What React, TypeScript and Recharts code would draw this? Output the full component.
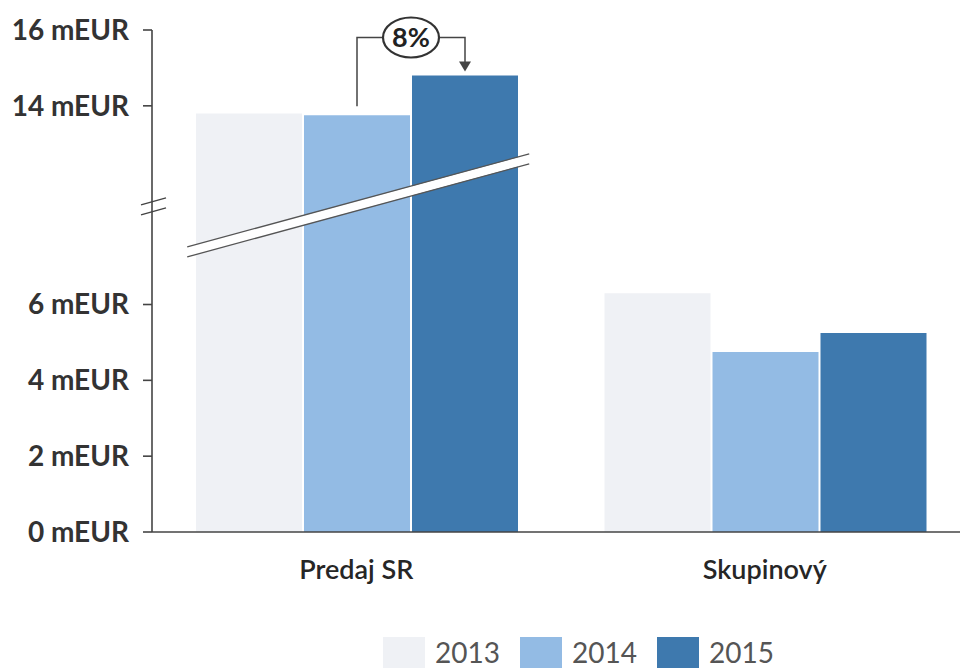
import React from "react";
import {
  BarChart,
  Bar,
  XAxis,
  YAxis,
  Legend,
  LabelList,
  ReferenceLine,
  ReferenceDot,
} from "recharts";

// Categories and yearly revenue (mEUR)
const categories = ["Predaj SR", "Skupinový"];
const years = ["2013", "2014", "2015"];
const series2013 = [13.8, 6.3];
const series2014 = [13.75, 4.75];
const series2015 = [14.8, 5.25];
const seriesColors = ["#eff1f5", "#93bbe4", "#3e79ae"];

// Value axis ticks and labels
const tickValues = [0, 2, 4, 6, 14, 16];
const tickLabels = ["0 mEUR", "2 mEUR", "4 mEUR", "6 mEUR", "14 mEUR", "16 mEUR"];

// The value axis is broken: the span between these two values is cut out
const BREAK_LOW = 8.6;
const BREAK_HIGH = 11.36;
const compress = (v: number) =>
  v <= BREAK_LOW ? v : v >= BREAK_HIGH ? v - (BREAK_HIGH - BREAK_LOW) : BREAK_LOW;

const BAR_GAP = 2;
const AXIS_COLOR = "#444";
const FONT = "Lato, 'Open Sans', sans-serif";

const data = categories.map((name, i) => ({
  name,
  y2013: compress(series2013[i]),
  y2014: compress(series2014[i]),
  y2015: compress(series2015[i]),
}));

const seriesKeys = ["y2013", "y2014", "y2015"];

// Slanted double line cutting across the first group of bars
const BarBreak = (props: any) => {
  const { cx, cy } = props;
  if (cx == null || cy == null) return null;
  const slope = -0.272;
  const xa = cx - 169;
  const xb = cx + 173;
  const ya = cy + (xa - cx) * slope;
  const yb = cy + (xb - cx) * slope;
  return (
    <g>
      <line x1={xa} y1={ya} x2={xb} y2={yb} stroke="#ffffff" strokeWidth={9} />
      <line x1={xa} y1={ya - 5} x2={xb} y2={yb - 5} stroke="#555" strokeWidth={1.3} />
      <line x1={xa} y1={ya + 5} x2={xb} y2={yb + 5} stroke="#555" strokeWidth={1.3} />
    </g>
  );
};

// "//" break marks on the value axis
const AxisBreak = (props: any) => {
  const { x1, y1 } = props;
  if (x1 == null || y1 == null) return null;
  const x = x1;
  const y = y1;
  return (
    <g>
      <rect x={x - 3} y={y - 3} width={6} height={7} fill="#ffffff" />
      <line x1={x - 11} y1={y - 1} x2={x + 14} y2={y - 8} stroke={AXIS_COLOR} strokeWidth={1.4} />
      <line x1={x - 11} y1={y + 9} x2={x + 14} y2={y + 2} stroke={AXIS_COLOR} strokeWidth={1.4} />
    </g>
  );
};

// Growth bracket from the 2014 bar to the 2015 bar of the first group
const GrowthBracket = (props: any) => {
  const { x, y, width, height, value, index } = props;
  if (index !== 0 && value !== data[0].y2015) return null;
  const bx = Number(x);
  const by = Number(y);
  const w = Number(width);
  const h = Number(height);
  const pxPerUnit = h / Number(value);
  const bottom = by + h;
  const y2014 = bottom - data[0].y2014 * pxPerUnit;
  const x2014 = bx - BAR_GAP - w / 2;
  const x2015 = bx + w / 2;
  const yTop = by - 38;
  const ex = bx - BAR_GAP / 2;
  const rx = 28;
  const ry = 20;
  const pct = Math.round((series2015[0] / series2014[0] - 1) * 100);
  return (
    <g>
      <polyline
        points={`${x2014},${y2014 - 9} ${x2014},${yTop} ${ex - rx},${yTop}`}
        fill="none"
        stroke={AXIS_COLOR}
        strokeWidth={1.5}
      />
      <polyline
        points={`${ex + rx},${yTop} ${x2015},${yTop} ${x2015},${by - 13}`}
        fill="none"
        stroke={AXIS_COLOR}
        strokeWidth={1.5}
      />
      <polygon
        points={`${x2015 - 6},${by - 14} ${x2015 + 6},${by - 14} ${x2015},${by - 4}`}
        fill={AXIS_COLOR}
      />
      <ellipse cx={ex} cy={yTop} rx={rx} ry={ry} fill="#ffffff" stroke="#333" strokeWidth={2.2} />
      <text
        x={ex}
        y={yTop + 10}
        textAnchor="middle"
        fontSize={27}
        fontWeight={700}
        fill="#222"
        fontFamily={FONT}
      >
        {`${pct}%`}
      </text>
    </g>
  );
};

const CategoryTick = (props: any) => {
  const { x, y, payload } = props;
  return (
    <text
      x={x}
      y={y + 47}
      textAnchor="middle"
      fontSize={27}
      fontWeight={600}
      fill="#262626"
      fontFamily={FONT}
    >
      {payload.value}
    </text>
  );
};

const LegendContent = (props: any) => {
  const { payload } = props;
  return (
    <div style={{ display: "flex", alignItems: "center", fontFamily: FONT }}>
      {(payload || []).map((entry: any, i: number) => (
        <div key={i} style={{ display: "flex", alignItems: "center", marginRight: 20 }}>
          <div style={{ width: 42, height: 31, background: entry.color, marginRight: 10 }} />
          <span style={{ fontSize: 28, color: "#555", lineHeight: "31px" }}>{entry.value}</span>
        </div>
      ))}
    </div>
  );
};

export default function App() {
  return (
    <div
      style={{
        position: "absolute",
        left: 0,
        top: 0,
        width: 960,
        height: 669,
        background: "#ffffff",
        fontFamily: FONT,
        overflow: "hidden",
      }}
    >
      <BarChart
        width={960}
        height={669}
        data={data}
        margin={{ top: 30, right: -9, bottom: 77, left: 0 }}
        barCategoryGap={44}
        barGap={BAR_GAP}
      >
        <XAxis
          dataKey="name"
          axisLine={{ stroke: AXIS_COLOR, strokeWidth: 1.6 }}
          tickLine={false}
          tickSize={0}
          tickMargin={0}
          height={60}
          tick={<CategoryTick />}
          interval={0}
        />
        <YAxis
          width={152}
          type="number"
          domain={[0, compress(16)]}
          allowDataOverflow
          ticks={tickValues.map(compress)}
          interval={0}
          tickFormatter={(v: number) => {
            const i = tickValues.findIndex((t) => Math.abs(compress(t) - v) < 1e-6);
            return i >= 0 ? tickLabels[i] : "";
          }}
          axisLine={{ stroke: AXIS_COLOR, strokeWidth: 1.6 }}
          tickLine={{ stroke: AXIS_COLOR, strokeWidth: 1.6 }}
          tickSize={9}
          tickMargin={14}
          tick={{ fontSize: 28, fontWeight: 700, fill: "#333", fontFamily: FONT }}
        />
        {seriesKeys.map((key, i) => (
          <Bar
            key={key}
            dataKey={key}
            name={years[i]}
            fill={seriesColors[i]}
            isAnimationActive={false}
          >
            {i === 2 ? <LabelList dataKey={key} content={<GrowthBracket />} /> : null}
          </Bar>
        ))}
        <ReferenceDot
          x={categories[0]}
          y={compress(BREAK_LOW)}
          ifOverflow="visible"
          shape={<BarBreak />}
        />
        <ReferenceLine
          y={compress(BREAK_LOW)}
          ifOverflow="visible"
          shape={<AxisBreak />}
        />
        <Legend
          layout="horizontal"
          verticalAlign="middle"
          align="center"
          wrapperStyle={{ top: 637, left: 383, width: 500 }}
          content={<LegendContent />}
        />
      </BarChart>
    </div>
  );
}
